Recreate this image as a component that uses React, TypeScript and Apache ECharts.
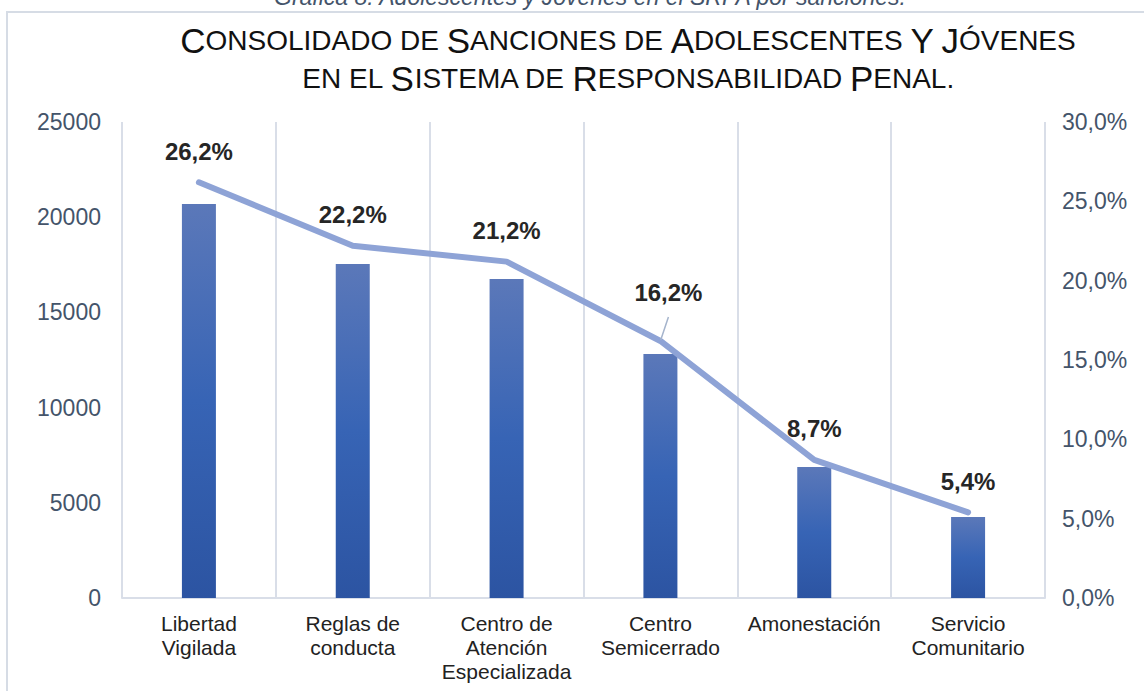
import React, { useEffect, useRef } from "react";
import * as echarts from "echarts";

const categories = [
  "Libertad\nVigilada",
  "Reglas de\nconducta",
  "Centro de\nAtención\nEspecializada",
  "Centro\nSemicerrado",
  "Amonestación",
  "Servicio\nComunitario",
];
const sanciones = [20690, 17540, 16750, 12810, 6880, 4250];
const porcentajes = [26.2, 22.2, 21.2, 16.2, 8.7, 5.4];
const leftTicks = { min: 0, max: 25000, interval: 5000 };
const rightTicks = { min: 0, max: 30, interval: 5 };

const caption = "Gráfica 8. Adolescentes y Jóvenes en el SRPA por sanciones.";
const titleText =
  "{b|C}{s|ONSOLIDADO DE }{b|S}{s|ANCIONES DE }{b|A}{s|DOLESCENTES }{b|Y}{s| }{b|J}{s|ÓVENES}\n" +
  "{s|EN EL }{b|S}{s|ISTEMA DE }{b|R}{s|ESPONSABILIDAD }{b|P}{s|ENAL.}";

const fmtPct = (v: number) => v.toFixed(1).replace(".", ",") + "%";

export default function App() {
  const ref = useRef<HTMLDivElement>(null);
  useEffect(() => {
    if (!ref.current) return;
    const chart = echarts.init(ref.current, null, { renderer: "svg" });
    const axisColor = "#44546A";
    const gridColor = "#D9DEE8";
    chart.setOption({
      animation: false,
      backgroundColor: "#ffffff",
      textStyle: { fontFamily: "Liberation Sans, Arial, sans-serif" },
      title: {
        text: titleText,
        left: 623,
        top: 16,
        textAlign: "center",
        textStyle: {
          color: "#111111",
          fontWeight: "normal",
          lineHeight: 38,
          rich: {
            b: { fontSize: 35, color: "#111111", lineHeight: 38, fontFamily: "Liberation Sans, Arial" },
            s: { fontSize: 28, color: "#111111", lineHeight: 38, fontFamily: "Liberation Sans, Arial" },
          },
        },
      },
      graphic: [
        {
          type: "rect",
          shape: { x: 7, y: 12, width: 1160, height: 700 },
          style: { fill: "none", stroke: "#D6DCE5", lineWidth: 2 },
          silent: true,
          z: -10,
        },
        {
          type: "text",
          x: 590,
          y: -3,
          style: {
            text: caption,
            align: "center",
            verticalAlign: "middle",
            fontSize: 23,
            fontStyle: "italic",
            fill: "#44546A",
            fontFamily: "Liberation Sans, Arial",
          },
        },
      ],
      grid: { left: 122, right: 99, top: 122, bottom: 93, containLabel: false },
      xAxis: {
        type: "category",
        data: categories,
        boundaryGap: true,
        axisLine: { show: true, lineStyle: { color: gridColor, width: 2 } },
        axisTick: { show: false },
        splitLine: { show: true, lineStyle: { color: gridColor, width: 2 } },
        axisLabel: {
          color: "#222222",
          fontSize: 21,
          lineHeight: 24,
          margin: 13,
          interval: 0,
          fontFamily: "Liberation Sans, Arial",
        },
      },
      yAxis: [
        {
          type: "value",
          min: leftTicks.min,
          max: leftTicks.max,
          interval: leftTicks.interval,
          axisLine: { show: false },
          axisTick: { show: false },
          splitLine: { show: false },
          axisLabel: {
            color: axisColor,
            fontSize: 23,
            margin: 21,
            formatter: (v: number) => String(v),
            fontFamily: "Liberation Sans, Arial",
          },
        },
        {
          type: "value",
          min: rightTicks.min,
          max: rightTicks.max,
          interval: rightTicks.interval,
          position: "right",
          axisLine: { show: false },
          axisTick: { show: false },
          splitLine: { show: false },
          axisLabel: {
            color: axisColor,
            fontSize: 23,
            margin: 17,
            formatter: (v: number) => fmtPct(v),
            fontFamily: "Liberation Sans, Arial",
          },
        },
      ],
      series: [
        {
          type: "bar",
          yAxisIndex: 0,
          data: sanciones,
          barWidth: 34,
          itemStyle: {
            color: new echarts.graphic.LinearGradient(0, 0, 0, 1, [
              { offset: 0, color: "#5B78B9" },
              { offset: 0.5, color: "#3764B5" },
              { offset: 1, color: "#2C54A2" },
            ]),
          },
          z: 2,
        },
        {
          type: "line",
          yAxisIndex: 1,
          data: porcentajes.map((v, i) =>
            i === 3
              ? {
                  value: v,
                  label: { offset: [8, -17] },
                  labelLine: { show: true, lineStyle: { color: "#A5B4CC", width: 1.5 } },
                }
              : v
          ),
          symbol: "circle",
          symbolSize: 2,
          showSymbol: true,
          itemStyle: { color: "#8EA3D6" },
          lineStyle: { color: "#8EA3D6", width: 6, cap: "round", join: "round" },
          label: {
            show: true,
            position: "top",
            distance: 18,
            formatter: (p: any) => fmtPct(p.value),
            color: "#262626",
            fontSize: 24,
            fontWeight: "bold",
            fontFamily: "Liberation Sans, Arial",
          },
          z: 3,
        },
      ],
    });
    return () => chart.dispose();
  }, []);
  return (
    <div
      ref={ref}
      style={{ position: "fixed", left: 0, top: 0, width: 1144, height: 691 }}
    />
  );
}
